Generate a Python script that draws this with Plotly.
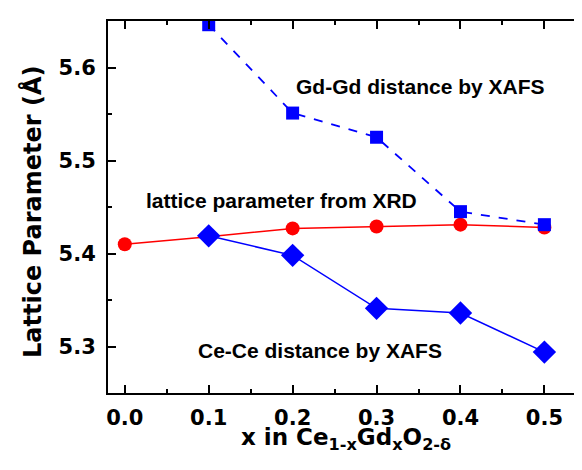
import plotly.graph_objects as go

x_xrd = [0.0, 0.1, 0.2, 0.3, 0.4, 0.5]
y_xrd = [5.410, 5.418, 5.427, 5.429, 5.431, 5.428]

x_gd = [0.1, 0.2, 0.3, 0.4, 0.5]
y_gd = [5.646, 5.551, 5.525, 5.445, 5.431]

x_ce = [0.1, 0.2, 0.3, 0.4, 0.5]
y_ce = [5.419, 5.398, 5.341, 5.336, 5.294]

x_ticks = [0.0, 0.1, 0.2, 0.3, 0.4, 0.5]
x_ticklabels = ["0.0", "0.1", "0.2", "0.3", "0.4", "0.5"]
y_ticks = [5.3, 5.4, 5.5, 5.6]
y_ticklabels = ["5.3", "5.4", "5.5", "5.6"]

FONT = "Arial, Liberation Sans, sans-serif"
WIDE = "DejaVu Sans, Arial, sans-serif"

fig = go.Figure()
fig.add_trace(go.Scatter(x=x_xrd, y=y_xrd, mode="lines+markers",
                         line=dict(color="#ff0000", width=1.5),
                         marker=dict(symbol="circle", size=14, color="#ff0000"),
                         name="XRD"))
fig.add_trace(go.Scatter(x=x_gd, y=y_gd, mode="lines+markers",
                         line=dict(color="#0000ff", width=1.8, dash="dash"),
                         marker=dict(symbol="square", size=13, color="#0000ff"),
                         name="Gd-Gd"))
fig.add_trace(go.Scatter(x=x_ce, y=y_ce, mode="lines+markers",
                         line=dict(color="#0000ff", width=1.5),
                         marker=dict(symbol="diamond", size=18, color="#0000ff"),
                         name="Ce-Ce"))

ann_font = dict(family=FONT, size=21, color="black")
fig.add_annotation(x=0.352, y=5.58, text="<b>Gd-Gd distance by XAFS</b>",
                   showarrow=False, font=ann_font)
fig.add_annotation(x=0.187, y=5.457, text="<b>lattice parameter from XRD</b>",
                   showarrow=False, font=ann_font)
fig.add_annotation(x=0.2325, y=5.296, text="<b>Ce-Ce distance by XAFS</b>",
                   showarrow=False, font=ann_font)

# axis titles
fig.add_annotation(xref="paper", yref="paper", x=0.5, y=-0.08, xanchor="center", yanchor="top",
                   borderpad=0,
                   text="<b>x in Ce<sub>1-x</sub>Gd<sub>x</sub>O<sub>2-δ</sub></b>",
                   showarrow=False, font=dict(family=WIDE, size=23, color="black"))
fig.add_annotation(xref="paper", yref="paper", x=-0.159, y=0.488, xanchor="center", yanchor="middle",
                   textangle=-90, text="<b>Lattice Parameter (Å)</b>",
                   showarrow=False, font=dict(family=WIDE, size=24, color="black"))

axis_common = dict(showline=True, linecolor="black", linewidth=2, mirror="ticks",
                   ticks="inside", ticklen=8, tickwidth=1.5, tickcolor="black",
                   showgrid=False, zeroline=False,
                   tickfont=dict(family=WIDE, size=21, color="black"))

fig.update_layout(
    width=582, height=470,
    margin=dict(l=100, r=5, t=13, b=85),
    plot_bgcolor="white", paper_bgcolor="white",
    showlegend=False,
    xaxis=dict(range=[-0.02, 0.546], tickvals=x_ticks,
               ticktext=["<b>%s</b>" % t for t in x_ticklabels],
               ticklabelstandoff=5,
               minor=dict(dtick=0.05, ticks="inside", ticklen=4, tickwidth=1.5, tickcolor="black"),
               **axis_common),
    yaxis=dict(range=[5.25, 5.65], tickvals=y_ticks,
               ticktext=["<b>%s</b>" % t for t in y_ticklabels],
               ticklabelstandoff=6,
               minor=dict(dtick=0.05, ticks="inside", ticklen=4, tickwidth=1.5, tickcolor="black"),
               **axis_common),
)

fig.write_html("out.html")
